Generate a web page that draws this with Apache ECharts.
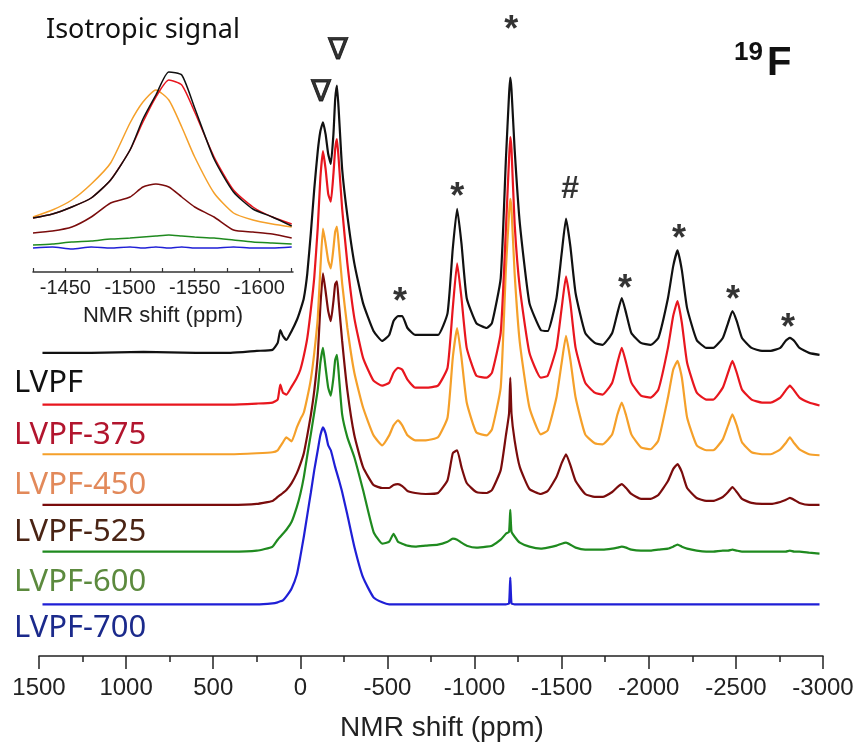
<!DOCTYPE html>
<html>
<head>
<meta charset="utf-8">
<script src="https://cdn.jsdelivr.net/npm/echarts@6/dist/echarts.min.js"></script>
<style>
  html, body { margin: 0; padding: 0; background: #fff; }
  #chart { width: 862px; height: 747px; }
</style>
</head>
<body>
<div id="chart"></div>
<script>
// ---------------- DATA ----------------
// Shared chemical-shift grid (ppm) for the main stacked spectra
const ppm = [
  1480, 1200, 900, 600, 400, 250, 160, 130, 115, 100,
  80, 50, 20, 0, -20, -40, -60, -80, -100, -115,
  -130, -145, -160, -175, -190, -200, -210, -220, -240, -270,
  -310, -360, -420, -470, -510, -535, -560, -585, -615, -660,
  -720, -790, -845, -875, -900, -925, -955, -1010, -1070, -1100,
  -1150, -1180, -1198, -1205, -1212, -1230, -1260, -1315, -1380, -1420,
  -1470, -1500, -1525, -1550, -1580, -1635, -1690, -1735, -1790, -1820,
  -1845, -1870, -1900, -1955, -2010, -2055, -2110, -2140, -2165, -2190,
  -2220, -2275, -2330, -2370, -2425, -2455, -2480, -2505, -2535, -2590,
  -2650, -2700, -2755, -2785, -2810, -2835, -2865, -2920, -2980
];

// Sample names and vertical stacking offsets (a.u.)
const sampleNames = ['LVPF', 'LVPF-375', 'LVPF-450', 'LVPF-525', 'LVPF-600', 'LVPF-700'];
const stackOffsets = [305, 253, 203, 152, 105, 52];

// Intensities (a.u., relative to each trace's baseline)
const lvpf = [
  0, 0, 1, 0, 0, 2, 3, 10, 23, 17,
  13, 22, 33, 43, 55, 80, 120, 165, 203, 223,
  232, 220, 200, 190, 220, 255, 269, 245, 185, 138,
  90, 50, 22, 12, 18, 32, 37, 37, 25, 18,
  18, 18, 40, 105, 145, 110, 55, 30, 25, 30,
  75, 195, 260, 277, 265, 205, 130, 50, 23, 22,
  55, 100, 135, 107, 60, 20, 10, 8, 20, 40,
  55, 40, 20, 10, 8, 15, 55, 87, 103, 83,
  45, 13, 5, 5, 15, 30, 42, 32, 15, 5,
  2, 2, 5, 12, 15, 12, 5, 0, -2
];
const lvpf375 = [
  0, 0, 0, 0, 0, 1, 2, 5, 20, 12,
  10, 18, 27, 35, 49, 67, 95, 128, 178, 228,
  255, 237, 212, 204, 232, 257, 267, 247, 197, 142,
  87, 47, 24, 19, 22, 32, 37, 35, 25, 17,
  17, 19, 37, 97, 142, 107, 57, 29, 27, 32,
  72, 177, 247, 269, 257, 182, 117, 52, 27, 29,
  57, 97, 129, 102, 57, 22, 12, 10, 22, 42,
  57, 42, 22, 9, 7, 15, 57, 89, 104, 82,
  42, 12, 5, 5, 17, 32, 44, 32, 15, 5,
  2, 2, 7, 14, 19, 14, 7, 2, -1
];
const lvpf450 = [
  0, 0, 0, 0, 0, 1, 2, 4, 8, 12,
  17, 13, 27, 35, 42, 57, 75, 102, 137, 187,
  227, 212, 195, 187, 207, 224, 229, 212, 172, 127,
  82, 47, 19, 9, 19, 29, 34, 29, 19, 14,
  14, 17, 37, 97, 127, 97, 52, 22, 19, 25,
  67, 187, 242, 257, 247, 182, 112, 47, 20, 24,
  57, 92, 119, 95, 57, 20, 11, 10, 20, 40,
  52, 39, 20, 7, 5, 14, 57, 85, 94, 77,
  37, 9, 4, 4, 15, 29, 40, 29, 12, 2,
  0, 0, 5, 11, 17, 11, 5, 0, -1
];
const lvpf525 = [
  0, 0, 0, 0, 0, 1, 4, 8, 10, 12,
  15, 22, 32, 41, 52, 70, 90, 115, 150, 200,
  233, 215, 195, 185, 205, 222, 225, 205, 165, 115,
  70, 38, 20, 17, 17, 20, 21, 19, 14, 12,
  11, 12, 25, 52, 55, 38, 22, 13, 12, 15,
  35, 70, 92, 128, 92, 65, 38, 16, 11, 14,
  28, 42, 51, 40, 24, 11, 8, 8, 13, 18,
  21, 17, 11, 6, 6, 10, 24, 36, 41, 33,
  17, 7, 4, 4, 8, 13, 18, 13, 6, 2,
  1, 1, 3, 5, 7, 5, 2, 0, 0
];
const lvpf600 = [
  0, 0, 0, 0, 0, 1, 5, 12, 15, 18,
  22, 30, 45, 58, 75, 97, 118, 140, 163, 190,
  205, 185, 165, 157, 175, 193, 198, 180, 138, 115,
  95, 62, 20, 8, 10, 18, 10, 8, 6, 5,
  6, 7, 10, 13, 12, 9, 6, 4, 5, 6,
  12, 18, 20, 42, 20, 15, 9, 5, 3, 4,
  6, 8, 9, 7, 4, 2, 2, 2, 3, 4,
  5, 4, 2, 1, 1, 2, 3, 5, 7, 5,
  3, 1, 0, 0, 1, 1, 2, 1, 0, 0,
  0, 0, 0, 0, 1, 0, 0, -1, -2
];
const lvpf700 = [
  0, 0, 0, 0, 0, 0, 1, 2, 3, 4,
  8, 16, 30, 48, 68, 90, 112, 135, 155, 170,
  178, 172, 160, 155, 145, 138, 132, 126, 113, 90,
  58, 27, 7, 2, 0, 0, 0, 0, 0, 0,
  0, 0, 0, 0, 0, 0, 0, 0, 0, 0,
  0, 0, 1, 27, 1, 0, 0, 0, 0, 0,
  0, 0, 0, 0, 0, 0, 0, 0, 0, 0,
  0, 0, 0, 0, 0, 0, 0, 0, 0, 0,
  0, 0, 0, 0, 0, 0, 0, 0, 0, 0,
  0, 0, 0, 0, 0, 0, 0, 0, 0
];

// Main x-axis tick values
const mainTicks = [1500, 1000, 500, 0, -500, -1000, -1500, -2000, -2500, -3000];

// Peak annotations (ppm, height in plot units, symbol)
const annPpm = [-119, -216, -572, -900, -1210, -1549, -1864, -2174, -2484, -2799];
const annHeight = [568, 610, 364, 470, 638, 470, 377, 428, 366, 338];
const annSymbol = ['∇', '∇', '*', '*', '*', '#', '*', '*', '*', '*'];

// Inset: isotropic signal
const insetPpm = [-1425, -1440, -1455, -1470, -1485, -1500, -1510, -1520, -1530, -1540, -1550, -1565, -1580, -1595, -1610, -1625];
const insetLvpf    = [54, 58, 65, 74, 92, 122, 153, 177, 200, 197, 164, 113, 80, 63, 55, 46];
const insetLvpf375 = [54, 58, 65, 74, 92, 122, 150, 175, 192, 187, 160, 115, 82, 65, 55, 48];
const insetLvpf450 = [55, 62, 72, 88, 109, 149, 170, 182, 172, 145, 115, 79, 59, 52, 48, 45];
const insetLvpf525 = [39, 41, 45, 55, 69, 75, 85, 88, 85, 75, 65, 55, 42, 40, 38, 34];
const insetLvpf600 = [27, 28, 30, 31, 33, 34, 35, 36, 37, 36, 35, 34, 32, 30, 29, 28];
const insetLvpf700 = [24, 25, 23, 25, 24, 25, 24, 25, 24, 25, 24, 24, 25, 24, 24, 25];
const insetTickLabels = [-1450, -1500, -1550, -1600];
const insetMinorTicks = [-1425, -1450, -1475, -1500, -1525, -1550, -1575, -1600, -1625];

// ---------------- STYLE ----------------
const lineColors  = ['#111111', '#e8161e', '#f5a02a', '#7a0c0c', '#1f8a1f', '#1f1fd6'];
const labelColors = ['#111111', '#b2152e', '#e2895a', '#4a2414', '#5c8a3e', '#1b2a8c'];
const mainSeriesVals = [lvpf, lvpf375, lvpf450, lvpf525, lvpf600, lvpf700];
const insetSeriesVals = [insetLvpf, insetLvpf375, insetLvpf450, insetLvpf525, insetLvpf600, insetLvpf700];

const tickFont = 'Liberation Sans, Arial, sans-serif';

const series = [];
for (let k = mainSeriesVals.length - 1; k >= 0; k--) {
  const vals = mainSeriesVals[k];
  series.push({
    type: 'line', xAxisIndex: 0, yAxisIndex: 0,
    symbol: 'none', smooth: 0.15, animation: false,
    lineStyle: { color: lineColors[k], width: 2.2 },
    data: ppm.map((p, i) => [p, stackOffsets[k] + vals[i]]),
    z: 3
  });
}
for (let k = insetSeriesVals.length - 1; k >= 0; k--) {
  const vals = insetSeriesVals[k];
  series.push({
    type: 'line', xAxisIndex: 1, yAxisIndex: 1,
    symbol: 'none', smooth: 0.2, animation: false,
    lineStyle: { color: lineColors[k], width: 1.5 },
    data: insetPpm.map((p, i) => [p, vals[i]]),
    z: 4
  });
}

const symStyle = {
  '*': { fontSize: 36, fontWeight: 'bold', fontFamily: tickFont, offset: [0, 9] },
  '#': { fontSize: 32, fontWeight: 'bold', fontFamily: tickFont, offset: [0, 0] },
  '∇': { fontSize: 30, fontWeight: 'normal', fontFamily: 'DejaVu Sans', offset: [0, 2] }
};
series.push({
  type: 'scatter', xAxisIndex: 0, yAxisIndex: 0,
  symbolSize: 1, itemStyle: { color: 'rgba(0,0,0,0)' },
  animation: false, clip: false, z: 5,
  data: annPpm.map((p, i) => {
    const st = symStyle[annSymbol[i]];
    return {
      value: [p, annHeight[i]],
      label: {
        show: true, position: 'inside', formatter: annSymbol[i], color: '#000',
        fontSize: st.fontSize, fontWeight: st.fontWeight, fontFamily: st.fontFamily, offset: st.offset,
        textBorderColor: '#000', textBorderWidth: annSymbol[i] === '∇' ? 0.8 : 0
      }
    };
  })
});

const labelY = [383, 435, 485, 532, 582, 628];
const graphic = sampleNames.map((n, k) => ({
  type: 'text', left: 14, top: labelY[k] - 15,
  style: { text: n, fill: labelColors[k], font: '31px "Noto Sans", "Open Sans", sans-serif' }
}));
graphic.push({
  type: 'text', left: 46, top: 17,
  style: { text: 'Isotropic signal', fill: '#111', font: '27px "Noto Sans", "Open Sans", sans-serif' }
});
graphic.push({
  type: 'text', left: 734, top: 40,
  style: { text: '19', fill: '#111', font: 'bold 26px "Liberation Sans", Arial, sans-serif' }
});
graphic.push({
  type: 'text', left: 767, top: 44,
  style: { text: 'F', fill: '#111', font: 'bold 40px "Liberation Sans", Arial, sans-serif' }
});

const option = {
  backgroundColor: '#ffffff',
  animation: false,
  grid: [
    { left: 39, right: 39, top: 0, bottom: 87 },
    { left: 33, width: 260, top: 52, height: 220 }
  ],
  xAxis: [
    {
      type: 'value', gridIndex: 0, min: -3000, max: 1500, interval: 500, inverse: true,
      axisLine: { show: true, onZero: false, lineStyle: { color: '#222', width: 1.5 } },
      axisTick: { show: true, inside: false, length: 13, lineStyle: { color: '#222', width: 1.5 } },
      minorTick: { show: true, splitNumber: 2, length: 6, lineStyle: { color: '#222', width: 1.5 } },
      splitLine: { show: false },
      axisLabel: {
        fontSize: 24, color: '#222', margin: 20, fontFamily: tickFont,
        formatter: v => String(v)
      },
      name: 'NMR shift (ppm)', nameLocation: 'middle', nameGap: 58,
      nameTextStyle: { fontSize: 28, color: '#222', fontFamily: tickFont, padding: [0, 0, 0, 22] }
    },
    {
      type: 'value', gridIndex: 1, min: -1626, max: -1425, inverse: true,
      axisLine: { show: true, onZero: false, lineStyle: { color: '#333', width: 1.5 } },
      axisTick: { show: true, inside: true, length: 4, customValues: insetMinorTicks, lineStyle: { color: '#333', width: 1.2 } },
      splitLine: { show: false },
      axisLabel: {
        fontSize: 20, color: '#222', margin: 6, fontFamily: tickFont,
        customValues: insetTickLabels, formatter: v => String(v)
      },
      name: 'NMR shift (ppm)', nameLocation: 'middle', nameGap: 33,
      nameTextStyle: { fontSize: 22, color: '#222', fontFamily: tickFont }
    }
  ],
  yAxis: [
    { type: 'value', gridIndex: 0, min: 0, max: 660, show: false },
    { type: 'value', gridIndex: 1, min: 0, max: 220, show: false }
  ],
  graphic: graphic,
  series: series
};

const chart = echarts.init(document.getElementById('chart'), null, { renderer: 'canvas' });
chart.setOption(option);
</script>
</body>
</html>
